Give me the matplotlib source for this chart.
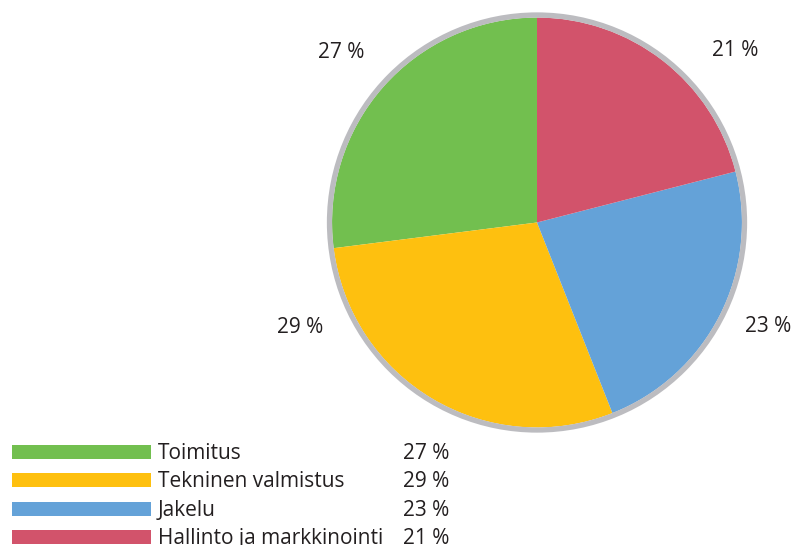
import matplotlib
matplotlib.use("Agg")
import matplotlib.pyplot as plt
from matplotlib.patches import Circle

categories = ["Toimitus", "Tekninen valmistus", "Jakelu", "Hallinto ja markkinointi"]
values = [27, 29, 23, 21]
colors = ["#72BF4F", "#FEC00F", "#64A2D8", "#D2536B"]
pct_labels = ["27 %", "29 %", "23 %", "21 %"]

W, H = 795, 545
plt.rcParams['font.family'] = ['Open Sans', 'DejaVu Sans']
TXT = "#231F20"
FS = 15

fig = plt.figure(figsize=(W / 100, H / 100), dpi=100)
ax = fig.add_axes([0, 0, 1, 1])

cx, cy, r = 537, H - 222.5, 205
ax.pie(values, colors=colors, startangle=90, counterclock=True,
       center=(cx, cy), radius=r, wedgeprops=dict(linewidth=0))
ax.add_patch(Circle((cx, cy), r + 2.5, fill=False, edgecolor="#BCBCC0", linewidth=3.8))

# slice labels (pixel positions: center x, baseline y)
label_pos = [(341.5, 58), (300.5, 333), (768.5, 332), (735, 56.5)]
for lab, (x, y) in zip(pct_labels, label_pos):
    ax.text(x, H - y, lab, ha="center", va="baseline", fontsize=FS, color=TXT)

# legend
bar_left, bar_w, bar_h = 12, 139, 14
tops = [445, 473, 501.5, 530]
for i, (cat, col, lab) in enumerate(zip(categories, colors, pct_labels)):
    top = tops[i]
    ax.barh(H - top - bar_h / 2, bar_w, height=bar_h, left=bar_left, color=col, linewidth=0)
    ax.text(158, H - (top + bar_h), cat, ha="left", va="baseline", fontsize=FS, color=TXT)
    ax.text(403, H - (top + bar_h), lab, ha="left", va="baseline", fontsize=FS, color=TXT)

ax.set_xlim(0, W)
ax.set_ylim(0, H)
ax.set_aspect("auto")
ax.axis("off")
fig.savefig("out.png", dpi=100)
